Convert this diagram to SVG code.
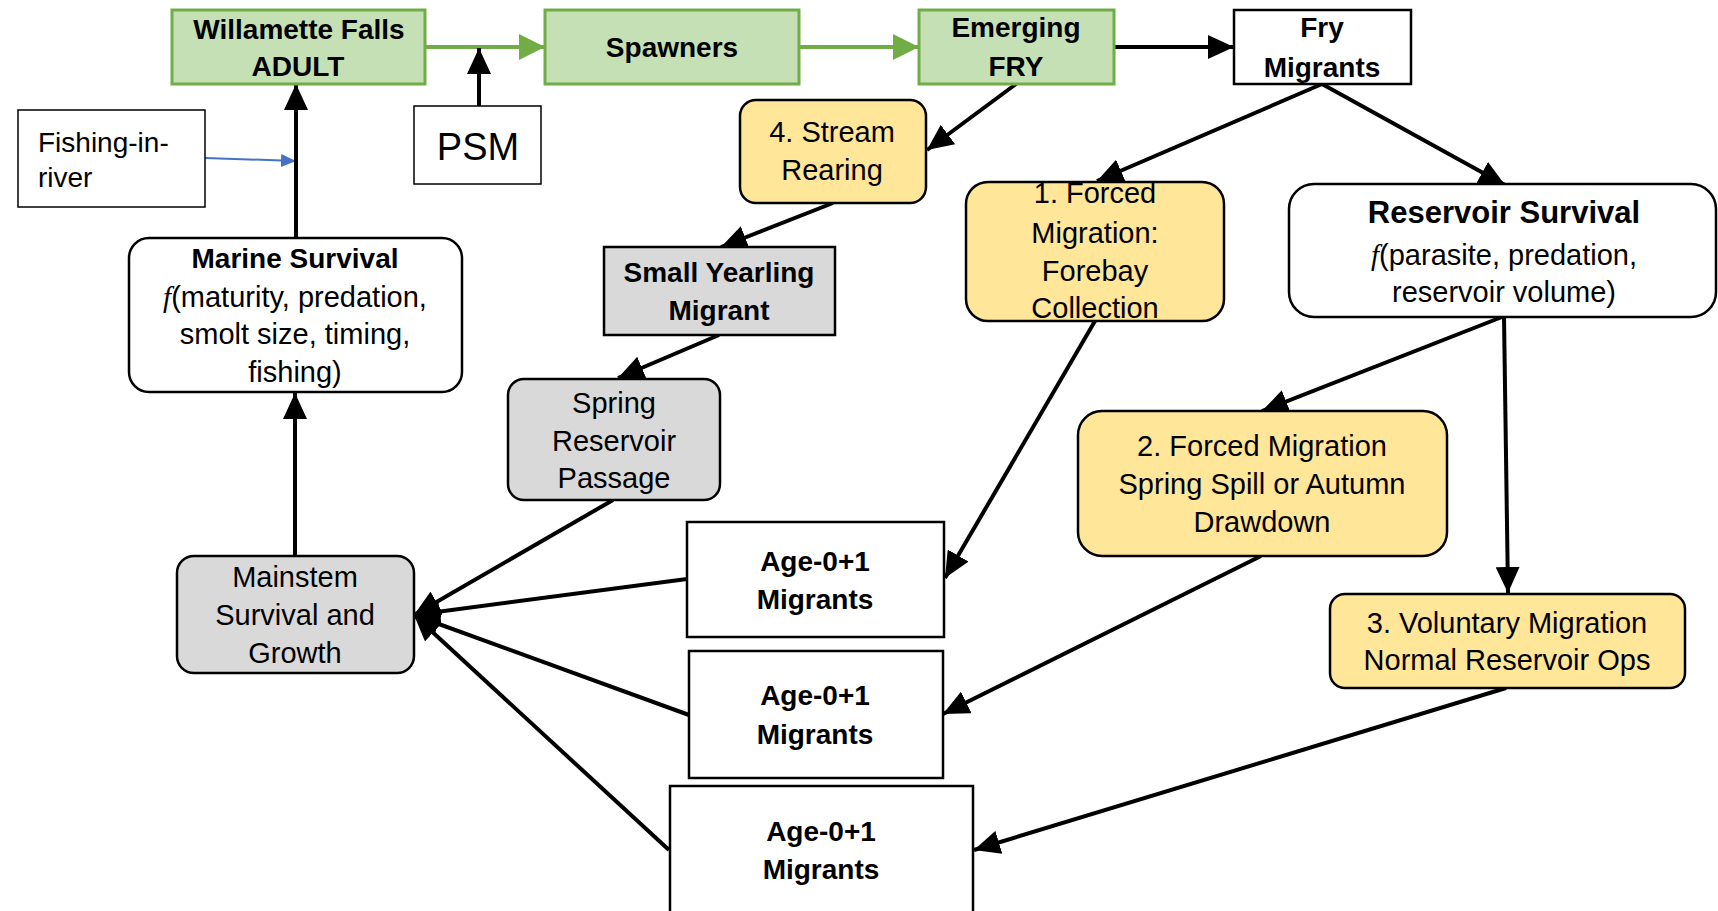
<svg xmlns="http://www.w3.org/2000/svg" width="1718" height="911" viewBox="0 0 1718 911">
<defs>
<style>
text{font-family:"Liberation Sans",Arial,sans-serif;fill:#000;text-anchor:middle}
.b{font-weight:bold;font-size:28px}
.r{font-size:29px}
.fi{font-family:"Liberation Serif",serif;font-style:italic}
.green{fill:#C5E0B4;stroke:#70AD47;stroke-width:3}
.white{fill:#fff;stroke:#000;stroke-width:2.5}
.thin{fill:#fff;stroke:#000;stroke-width:1.5}
.gray{fill:#D9D9D9;stroke:#000;stroke-width:2.5}
.yellow{fill:#FFE699;stroke:#000;stroke-width:2.5}
.k{stroke:#000;stroke-width:4;fill:none;marker-end:url(#ak)}
.g{stroke:#70AD47;stroke-width:4;fill:none;marker-end:url(#ag)}
.bl{stroke:#4472C4;stroke-width:2;fill:none;marker-end:url(#ab)}
</style>
<marker id="ak" markerUnits="userSpaceOnUse" markerWidth="26" markerHeight="24" refX="26" refY="12" orient="auto"><path d="M0,0 L26,12 L0,24 z" fill="#000"/></marker>
<marker id="ag" markerUnits="userSpaceOnUse" markerWidth="26" markerHeight="26" refX="26" refY="13" orient="auto"><path d="M0,0 L26,13 L0,26 z" fill="#70AD47"/></marker>
<marker id="ab" markerUnits="userSpaceOnUse" markerWidth="15" markerHeight="13" refX="15" refY="6.5" orient="auto"><path d="M0,0 L15,6.5 L0,13 z" fill="#4472C4"/></marker>
</defs>
<rect width="1718" height="911" fill="#fff"/>
<g id="connectors">
<line class="g" x1="425" y1="47" x2="545" y2="47"/>
<line class="g" x1="799" y1="47" x2="919" y2="47"/>
<line class="k" x1="1114" y1="47" x2="1234" y2="47"/>
<line class="k" x1="479" y1="106" x2="479" y2="48"/>
<line class="bl" x1="205" y1="158" x2="296" y2="161"/>
<line class="k" x1="296" y1="238" x2="296" y2="84"/>
<line class="k" x1="295" y1="556" x2="295" y2="393"/>
<line class="k" x1="1016" y1="84" x2="927" y2="150"/>
<line class="k" x1="833" y1="203" x2="721" y2="247"/>
<line class="k" x1="719" y1="335" x2="618" y2="378"/>
<line class="k" x1="1322" y1="84" x2="1097" y2="181"/>
<line class="k" x1="1322" y1="84" x2="1505" y2="185"/>
<line class="k" x1="1502" y1="317" x2="1262" y2="411"/>
<line class="k" x1="1504" y1="317" x2="1508" y2="593"/>
<line class="k" x1="1095" y1="321" x2="945" y2="578"/>
<line class="k" x1="1261" y1="556" x2="943" y2="714"/>
<line class="k" x1="1506" y1="688" x2="974" y2="850"/>
<line class="k" x1="613" y1="500" x2="414" y2="615"/>
<line class="k" x1="687" y1="579" x2="414" y2="615"/>
<line class="k" x1="689" y1="715" x2="414" y2="615"/>
<line class="k" x1="669" y1="850" x2="414" y2="615"/>
</g>
<g id="willamette"><rect class="green" x="172" y="10" width="253" height="74"/><text class="b" x="299" y="39">Willamette Falls</text><text class="b" x="298" y="76">ADULT</text></g>
<g id="spawners"><rect class="green" x="545" y="10" width="254" height="74"/><text class="b" x="672" y="57">Spawners</text></g>
<g id="emerging"><rect class="green" x="919" y="10" width="195" height="74"/><text class="b" x="1016" y="37">Emerging</text><text class="b" x="1016" y="76">FRY</text></g>
<g id="frymigrants"><rect class="white" x="1234" y="10" width="177" height="74"/><text class="b" x="1322" y="37">Fry</text><text class="b" x="1322" y="77">Migrants</text></g>
<g id="psm"><rect class="thin" x="414" y="106" width="127" height="78"/><text x="478" y="160" style="font-size:38px">PSM</text></g>
<g id="fishing"><rect class="thin" x="18" y="110" width="187" height="97"/><text x="38" y="152" style="font-size:28px;text-anchor:start">Fishing-in-</text><text x="38" y="187" style="font-size:28px;text-anchor:start">river</text></g>
<g id="marine"><rect class="white" x="129" y="238" width="333" height="154" rx="20"/><text class="b" x="295" y="268">Marine Survival</text><text class="r" x="295" y="307"><tspan class="fi">f</tspan>(maturity, predation,</text><text class="r" x="295" y="344">smolt size, timing,</text><text class="r" x="295" y="382">fishing)</text></g>
<g id="stream"><rect class="yellow" x="740" y="100" width="186" height="103" rx="16"/><text class="r" x="832" y="142">4. Stream</text><text class="r" x="832" y="180">Rearing</text></g>
<g id="smallyearling"><rect class="gray" x="604" y="247" width="231" height="88"/><text class="b" x="719" y="282">Small Yearling</text><text class="b" x="719" y="320">Migrant</text></g>
<g id="forced1"><rect class="yellow" x="966" y="182" width="258" height="139" rx="22"/><text class="r" x="1095" y="203">1. Forced</text><text class="r" x="1095" y="243">Migration:</text><text class="r" x="1095" y="281">Forebay</text><text class="r" x="1095" y="318">Collection</text></g>
<g id="reservoir"><rect class="white" x="1289" y="184" width="427" height="133" rx="25"/><text class="b" x="1504" y="223" style="font-size:31px">Reservoir Survival</text><text class="r" x="1504" y="265"><tspan class="fi">f</tspan>(parasite, predation,</text><text class="r" x="1504" y="302">reservoir volume)</text></g>
<g id="spring"><rect class="gray" x="508" y="379" width="212" height="121" rx="16"/><text class="r" x="614" y="413">Spring</text><text class="r" x="614" y="451">Reservoir</text><text class="r" x="614" y="488">Passage</text></g>
<g id="forced2"><rect class="yellow" x="1078" y="411" width="369" height="145" rx="24"/><text class="r" x="1262" y="456">2. Forced Migration</text><text class="r" x="1262" y="494">Spring Spill or Autumn</text><text class="r" x="1262" y="532">Drawdown</text></g>
<g id="voluntary3"><rect class="yellow" x="1330" y="594" width="355" height="94" rx="15"/><text class="r" x="1507" y="633">3. Voluntary Migration</text><text class="r" x="1507" y="670">Normal Reservoir Ops</text></g>
<g id="mainstem"><rect class="gray" x="177" y="556" width="237" height="117" rx="17"/><text class="r" x="295" y="587">Mainstem</text><text class="r" x="295" y="625">Survival and</text><text class="r" x="295" y="663">Growth</text></g>
<g id="age1"><rect class="white" x="687" y="522" width="257" height="115"/><text class="b" x="815" y="571">Age-0+1</text><text class="b" x="815" y="609">Migrants</text></g>
<g id="age2"><rect class="white" x="689" y="651" width="254" height="127"/><text class="b" x="815" y="705">Age-0+1</text><text class="b" x="815" y="744">Migrants</text></g>
<g id="age3"><rect class="white" x="670" y="786" width="303" height="140"/><text class="b" x="821" y="841">Age-0+1</text><text class="b" x="821" y="879">Migrants</text></g>
</svg>
